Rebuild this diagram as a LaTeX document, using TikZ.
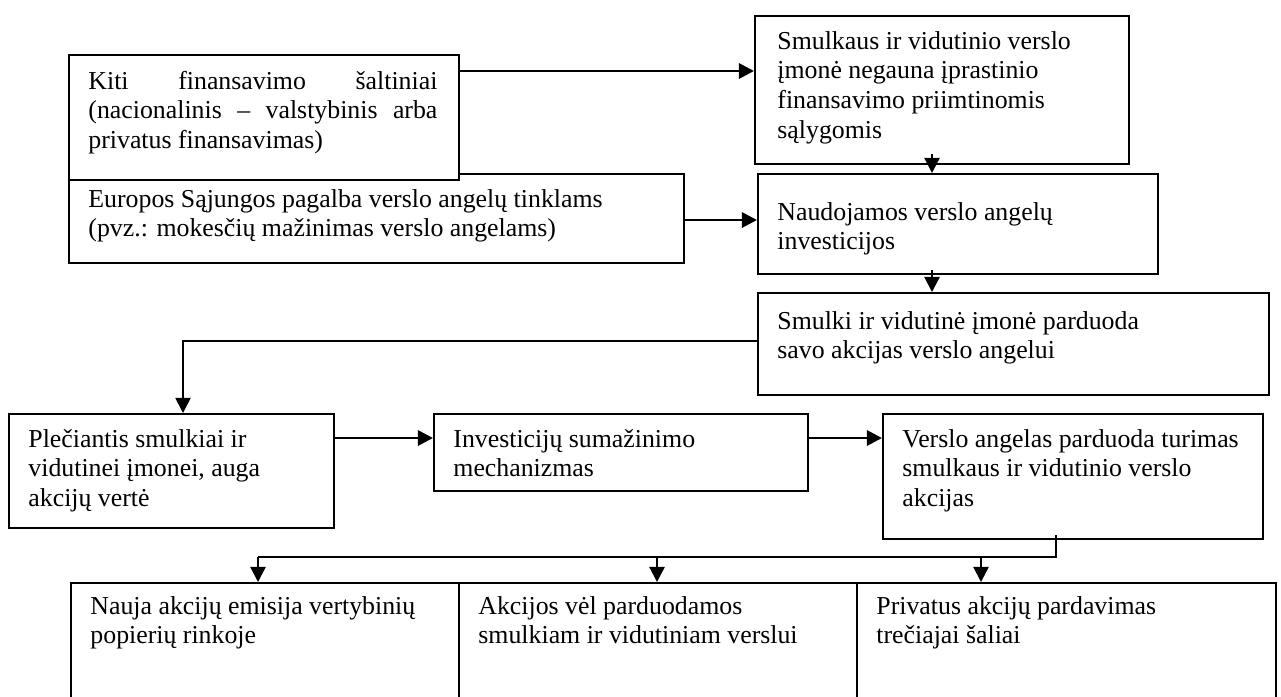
\documentclass[tikz,border=0pt]{standalone}
\usepackage{fontspec}
\setmainfont{Liberation Serif}
\usetikzlibrary{arrows.meta,calc}
\newdimen\px
\px=0.4647pt
\begin{document}
\begin{tikzpicture}[x=0.4647pt,y=-0.4647pt,
  box/.style={draw,line width=0.85pt,fill=white,inner sep=0,anchor=north west},
  txt/.style={anchor=north west,inner sep=0,align=flush left,
    font=\fontsize{12}{13.8}\selectfont},
  tip/.style={-{Triangle[length=7pt,width=7pt]}},
  arr/.style={line width=1.3pt,tip},
  varr/.style={line width=1pt,tip},
  link/.style={line width=0.85pt}]
\clip (0,0) rectangle (1281,696);
\useasboundingbox (0,0) rectangle (1281,696);

% boxes
\node[box,minimum width=615\px,minimum height=89\px] (eu) at (68,173) {};
\node[box,minimum width=390\px,minimum height=125\px] (kiti) at (68,54) {};
\node[box,minimum width=374\px,minimum height=148\px] (sm) at (754,15) {};
\node[box,minimum width=400\px,minimum height=100\px] (naud) at (757,173) {};
\node[box,minimum width=511\px,minimum height=102\px] (parduoda) at (757,292) {};
\node[box,minimum width=325\px,minimum height=114\px] (plec) at (8,413) {};
\node[box,minimum width=374\px,minimum height=77\px] (inv) at (433,413) {};
\node[box,minimum width=380\px,minimum height=125\px] (va) at (882,413) {};
\node[box,minimum width=388\px,minimum height=200\px] (b1) at (70,582) {};
\node[box,minimum width=398\px,minimum height=200\px] (b2) at (458,582) {};
\node[box,minimum width=419\px,minimum height=200\px] (b3) at (856,582) {};

% texts (the first box is set justified)
\node[txt,text width=349\px] (tkiti) at (88,68) {\strut\makebox[349\px]{Kiti\hfill finansavimo\hfill šaltiniai}\\
  \makebox[349\px]{(nacionalinis\hfill –\hfill valstybinis\hfill arba}\\privatus finansavimas)};
\node[txt] (teu) at (88,186) {\strut Europos Sąjungos pagalba verslo angelų tinklams\\(pvz.: mokesčių mažinimas verslo angelams)};
\node[txt] (tsm) at (777,28) {\strut Smulkaus ir vidutinio verslo\\įmonė negauna įprastinio\\finansavimo priimtinomis\\sąlygomis};
\node[txt] (tnaud) at (777,199) {\strut Naudojamos verslo angelų\\investicijos};
\node[txt] (tpard) at (777,308) {\strut Smulki ir vidutinė įmonė parduoda\\savo akcijas verslo angelui};
\node[txt] (tplec) at (28,426) {\strut Plečiantis smulkiai ir\\vidutinei įmonei, auga\\akcijų vertė};
\node[txt] (tinv) at (453,426) {\strut Investicijų sumažinimo\\mechanizmas};
\node[txt] (tva) at (902,426) {\strut Verslo angelas parduoda turimas\\smulkaus ir vidutinio verslo\\akcijas};
\node[txt] (tb1) at (90,593) {\strut Nauja akcijų emisija vertybinių\\popierių rinkoje};
\node[txt] (tb2) at (478,593) {\strut Akcijos vėl parduodamos\\smulkiam ir vidutiniam verslui};
\node[txt] (tb3) at (876,593) {\strut Privatus akcijų pardavimas\\trečiajai šaliai};

% guide coordinates for connector positions
\coordinate (ya) at (0,71);
\coordinate (yb) at (0,220);
\coordinate (xc) at (932,0);
\coordinate (yd) at (0,341);
\coordinate (xd) at (183,0);
\coordinate (ye) at (0,438);
\coordinate (xf) at (1056,0);
\coordinate (yf) at (0,557);
\coordinate (x1) at (258,0);
\coordinate (x2) at (657,0);
\coordinate (x3) at (981,0);

% connectors
\draw[arr] (kiti.east |- ya) -- (sm.west |- ya);
\draw[arr] (eu.east |- yb) -- (naud.west |- yb);
\draw[varr] ($(sm.south -| xc)+(0,-11)$) -- (naud.north -| xc);
\draw[varr] ($(naud.south -| xc)+(0,-5)$) -- (parduoda.north -| xc);
\draw[link,tip] (parduoda.west |- yd) -| (plec.north -| xd);
\draw[arr] (plec.east |- ye) -- (inv.west |- ye);
\draw[arr] (inv.east |- ye) -- (va.west |- ye);
\draw[link] ($(va.south -| xf)+(0,-5)$) -- (xf |- yf) -- (x1 |- yf);
\draw[varr] (x1 |- yf) -- (b1.north -| x1);
\draw[varr] (x2 |- yf) -- (b2.north -| x2);
\draw[varr] (x3 |- yf) -- (b3.north -| x3);
\end{tikzpicture}
\end{document}
